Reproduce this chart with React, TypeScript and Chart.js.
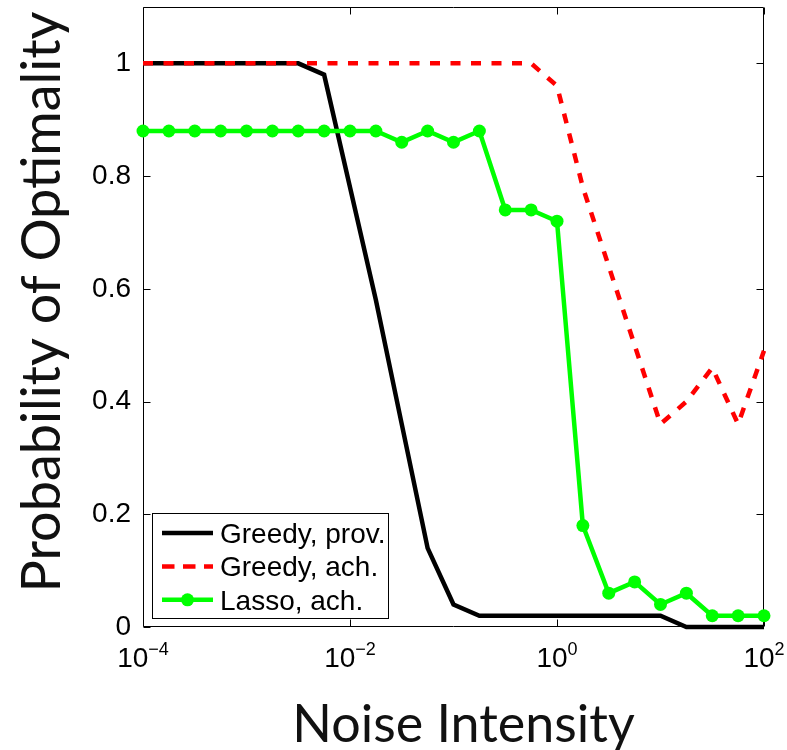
import React, { useEffect, useRef } from "react";
import { Chart, registerables } from "chart.js";

Chart.register(...registerables);

// ---- data ----
const noiseLevels = [
  0.0001, 0.00017783, 0.00031623, 0.00056234, 0.001, 0.0017783, 0.0031623, 0.0056234,
  0.01, 0.017783, 0.031623, 0.056234, 0.1, 0.17783, 0.31623, 0.56234,
  1, 1.7783, 3.1623, 5.6234, 10, 17.783, 31.623, 56.234, 100,
];
const greedyProvided = [
  1, 1, 1, 1, 1, 1, 1, 0.98, 0.78, 0.58, 0.36, 0.14, 0.04,
  0.02, 0.02, 0.02, 0.02, 0.02, 0.02, 0.02, 0.02, 0, 0, 0, 0,
];
const greedyAchieved = [
  1, 1, 1, 1, 1, 1, 1, 1, 1, 1, 1, 1, 1, 1, 1, 1,
  0.96, 0.78, 0.64, 0.5, 0.36, 0.4, 0.46, 0.36, 0.49,
];
const lassoAchieved = [
  0.88, 0.88, 0.88, 0.88, 0.88, 0.88, 0.88, 0.88, 0.88, 0.88,
  0.86, 0.88, 0.86, 0.88, 0.74, 0.74, 0.72, 0.18, 0.06, 0.08, 0.04, 0.06, 0.02, 0.02, 0.02,
];
const seriesLabels = ["Greedy, prov.", "Greedy, ach.", "Lasso, ach."];
const xTickValues = [0.0001, 0.01, 1, 100];
const xTickBases = ["10", "10", "10", "10"];
const xTickExponents = ["\u22124", "\u22122", "0", "2"];
const yTickValues = [0, 0.2, 0.4, 0.6, 0.8, 1];
const yTickLabels = ["0", "0.2", "0.4", "0.6", "0.8", "1"];
const xTitle = "Noise Intensity";
const yTitle = "Probability of Optimality";

const TICK_FONT = '"Liberation Sans", Arial, Helvetica, sans-serif';
const TITLE_FONT = 'Lato, "Open Sans", sans-serif';

const framePlugin = {
  id: "framePlugin",
  beforeDatasetsDraw(chart: any) {
    const { ctx, chartArea: a, scales } = chart;
    ctx.save();
    ctx.strokeStyle = "#000";
    ctx.lineWidth = 1;
    const L = Math.round(a.left) + 0.5;
    const R = Math.round(a.right) - 0.5;
    const T = Math.round(a.top) + 0.5;
    const B = Math.round(a.bottom) - 0.5;
    ctx.beginPath();
    ctx.moveTo(L, T);
    ctx.lineTo(R, T);
    ctx.lineTo(R, B);
    ctx.lineTo(L, B);
    ctx.closePath();
    ctx.stroke();
    const tl = 7;
    ctx.beginPath();
    xTickValues.forEach((v) => {
      const px = Math.round(scales.x.getPixelForValue(v)) + 0.5;
      ctx.moveTo(px, B);
      ctx.lineTo(px, B - tl);
      ctx.moveTo(px, T);
      ctx.lineTo(px, T + tl);
    });
    yTickValues.forEach((v) => {
      const py = Math.round(scales.y.getPixelForValue(v)) + 0.5;
      ctx.moveTo(L, py);
      ctx.lineTo(L + tl, py);
      ctx.moveTo(R, py);
      ctx.lineTo(R - tl, py);
    });
    ctx.stroke();
    ctx.restore();
  },
  afterDraw(chart: any) {
    const { ctx, chartArea: a, scales } = chart;
    ctx.save();
    // x tick labels with superscript exponents
    ctx.fillStyle = "#000";
    ctx.textBaseline = "alphabetic";
    ctx.textAlign = "left";
    xTickValues.forEach((v, i) => {
      const px = scales.x.getPixelForValue(v);
      ctx.font = `28px ${TICK_FONT}`;
      const wb = ctx.measureText(xTickBases[i]).width;
      ctx.font = `18px ${TICK_FONT}`;
      const ws = ctx.measureText(xTickExponents[i]).width;
      const start = px - (wb + ws) / 2;
      ctx.font = `28px ${TICK_FONT}`;
      ctx.fillText(xTickBases[i], start, a.bottom + 40);
      ctx.font = `18px ${TICK_FONT}`;
      ctx.fillText(xTickExponents[i], start + wb, a.bottom + 28);
    });

    // axis titles
    ctx.fillStyle = "#111";
    ctx.textAlign = "center";
    ctx.font = `52px ${TITLE_FONT}`;
    ctx.fillText(xTitle, (a.left + a.right) / 2 + 10, 742);
    ctx.save();
    ctx.translate(60, (a.top + a.bottom) / 2 - 15);
    ctx.rotate(-Math.PI / 2);
    ctx.font = `54px ${TITLE_FONT}`;
    ctx.fillText(yTitle, 0, 0);
    ctx.restore();

    // legend box
    ctx.textAlign = "left";
    const bx = Math.round(a.left) + 9;
    const by = Math.round(a.bottom) - 114;
    const bw = 236;
    const bh = 105;
    ctx.fillStyle = "#fff";
    ctx.fillRect(bx, by, bw, bh);
    ctx.strokeStyle = "#000";
    ctx.lineWidth = 1;
    ctx.strokeRect(bx + 0.5, by + 0.5, bw, bh);
    chart.data.datasets.forEach((ds: any, i: number) => {
      const y = by + 20 + i * 33.4;
      ctx.strokeStyle = ds.borderColor;
      ctx.lineWidth = ds.borderWidth;
      ctx.lineCap = "butt";
      ctx.setLineDash(ds.borderDash && ds.borderDash.length ? [12.5, 8.5] : []);
      ctx.beginPath();
      ctx.moveTo(bx + 10, y);
      ctx.lineTo(bx + 61, y);
      ctx.stroke();
      ctx.setLineDash([]);
      if (ds.pointRadius > 0) {
        ctx.fillStyle = ds.pointBackgroundColor;
        ctx.beginPath();
        ctx.arc(bx + 35.5, y, ds.pointRadius, 0, Math.PI * 2);
        ctx.fill();
      }
      ctx.fillStyle = "#000";
      ctx.font = `28px ${TICK_FONT}`;
      ctx.fillText(ds.label, bx + 68, y + 10);
    });
    ctx.restore();
  },
};

export default function App() {
  const ref = useRef<HTMLCanvasElement | null>(null);
  useEffect(() => {
    if (!ref.current) return;
    const toPoints = (ys: number[]) => noiseLevels.map((x, i) => ({ x, y: ys[i] }));
    const chart = new Chart(ref.current, {
      type: "line",
      data: {
        datasets: [
          {
            label: seriesLabels[0],
            data: toPoints(greedyProvided),
            borderColor: "#000000",
            borderWidth: 4.5,
            pointRadius: 0,
            tension: 0,
            clip: false,
            order: 3,
          },
          {
            label: seriesLabels[1],
            data: toPoints(greedyAchieved),
            borderColor: "#ff0000",
            borderWidth: 4.5,
            borderDash: [10, 10.5],
            borderCapStyle: "butt",
            pointRadius: 0,
            tension: 0,
            clip: false,
            order: 2,
          },
          {
            label: seriesLabels[2],
            data: toPoints(lassoAchieved),
            borderColor: "#00ff00",
            borderWidth: 4.5,
            pointRadius: 6.5,
            pointBackgroundColor: "#00ff00",
            pointBorderWidth: 0,
            tension: 0,
            clip: false,
            order: 1,
          },
        ],
      } as any,
      options: {
        animation: false,
        responsive: false,
        devicePixelRatio: 1,
        events: [],
        layout: { padding: { left: 0, right: 23, top: 7, bottom: 0 } },
        plugins: { legend: { display: false }, tooltip: { enabled: false } },
        scales: {
          x: {
            type: "logarithmic",
            min: 0.0001,
            max: 100,
            grid: { display: false },
            border: { display: false },
            ticks: { display: false },
            afterBuildTicks: (s: any) => {
              s.ticks = xTickValues.map((v) => ({ value: v }));
            },
            afterFit: (s: any) => {
              s.height = 123;
              s.paddingLeft = 0;
              s.paddingRight = 0;
            },
            title: { display: false },
          },
          y: {
            type: "linear",
            min: 0,
            max: 1.1,
            grid: { display: false },
            border: { display: false },
            afterBuildTicks: (s: any) => {
              s.ticks = yTickValues.map((v) => ({ value: v }));
            },
            afterFit: (s: any) => {
              s.width = 143;
              s.paddingTop = 0;
              s.paddingBottom = 0;
            },
            ticks: {
              color: "#000",
              padding: 4,
              font: { family: TICK_FONT, size: 28 },
              callback: (_v: any, i: number) => yTickLabels[i],
            },
            title: { display: false },
          },
        },
      } as any,
      plugins: [framePlugin],
    });
    return () => chart.destroy();
  }, []);
  return (
    <div style={{ position: "absolute", left: 0, top: 0, width: 787, height: 750, background: "#fff" }}>
      <canvas ref={ref} width={787} height={750} style={{ display: "block" }} />
    </div>
  );
}
